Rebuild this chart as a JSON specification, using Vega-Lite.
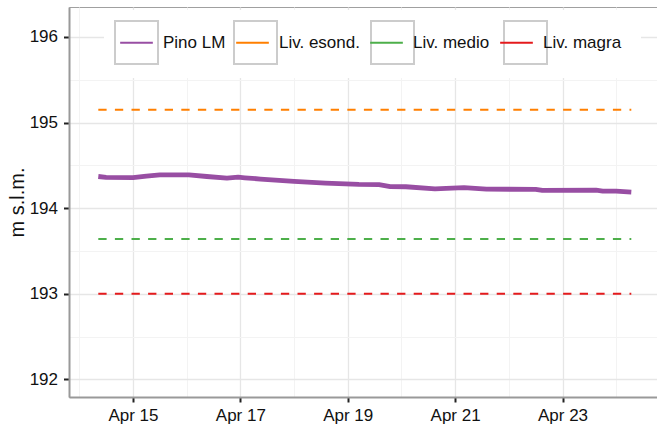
{
  "$schema": "https://vega.github.io/schema/vega-lite/v6.json",
  "autosize": "none",
  "padding": {"left": 69, "top": 7, "right": 0, "bottom": 29},
  "width": 590,
  "height": 390,
  "background": "white",
  "config": {
    "font": "Liberation Sans",
    "view": {"stroke": "#a0a0a0", "strokeWidth": 1},
    "axis": {"labelFontSize": 17, "titleFontSize": 20, "titleFontWeight": "normal"}
  },
  "datasets": {
    "level": [
      {"time": "2019-04-14T08:30:00", "value": 194.37, "series": "Pino LM"},
      {"time": "2019-04-14T12:00:00", "value": 194.36, "series": "Pino LM"},
      {"time": "2019-04-15T00:00:00", "value": 194.357, "series": "Pino LM"},
      {"time": "2019-04-15T06:00:00", "value": 194.375, "series": "Pino LM"},
      {"time": "2019-04-15T12:00:00", "value": 194.388, "series": "Pino LM"},
      {"time": "2019-04-16T01:00:00", "value": 194.388, "series": "Pino LM"},
      {"time": "2019-04-16T09:00:00", "value": 194.37, "series": "Pino LM"},
      {"time": "2019-04-16T18:00:00", "value": 194.352, "series": "Pino LM"},
      {"time": "2019-04-16T23:00:00", "value": 194.362, "series": "Pino LM"},
      {"time": "2019-04-17T02:00:00", "value": 194.355, "series": "Pino LM"},
      {"time": "2019-04-17T09:00:00", "value": 194.34, "series": "Pino LM"},
      {"time": "2019-04-18T00:00:00", "value": 194.312, "series": "Pino LM"},
      {"time": "2019-04-18T14:00:00", "value": 194.292, "series": "Pino LM"},
      {"time": "2019-04-19T05:00:00", "value": 194.277, "series": "Pino LM"},
      {"time": "2019-04-19T14:00:00", "value": 194.275, "series": "Pino LM"},
      {"time": "2019-04-19T19:00:00", "value": 194.252, "series": "Pino LM"},
      {"time": "2019-04-20T02:00:00", "value": 194.25, "series": "Pino LM"},
      {"time": "2019-04-20T15:00:00", "value": 194.225, "series": "Pino LM"},
      {"time": "2019-04-20T20:00:00", "value": 194.23, "series": "Pino LM"},
      {"time": "2019-04-21T04:00:00", "value": 194.24, "series": "Pino LM"},
      {"time": "2019-04-21T14:00:00", "value": 194.222, "series": "Pino LM"},
      {"time": "2019-04-22T12:00:00", "value": 194.22, "series": "Pino LM"},
      {"time": "2019-04-22T15:00:00", "value": 194.207, "series": "Pino LM"},
      {"time": "2019-04-23T15:00:00", "value": 194.21, "series": "Pino LM"},
      {"time": "2019-04-23T18:00:00", "value": 194.2, "series": "Pino LM"},
      {"time": "2019-04-24T00:00:00", "value": 194.2, "series": "Pino LM"},
      {"time": "2019-04-24T06:45:00", "value": 194.188, "series": "Pino LM"}
    ],
    "refs": [
      {"series": "Liv. esond.", "start": "2019-04-14T08:30:00", "end": "2019-04-24T06:45:00", "level": 195.15},
      {"series": "Liv. medio", "start": "2019-04-14T08:30:00", "end": "2019-04-24T06:45:00", "level": 193.64},
      {"series": "Liv. magra", "start": "2019-04-14T08:30:00", "end": "2019-04-24T06:45:00", "level": 193.0}
    ]
  },
  "resolve": {"axis": {"x": "independent", "y": "independent"}},
  "layer": [
    {
      "data": {"name": "refs"},
      "mark": {"type": "point", "opacity": 0},
      "encoding": {
        "x": {
          "field": "start", "type": "temporal",
          "scale": {"domain": [{"year": 2019, "month": "apr", "date": 13, "hours": 19, "minutes": 24}, {"year": 2019, "month": "apr", "date": 24, "hours": 19, "minutes": 8}], "nice": false},
          "axis": {
            "orient": "top", "title": null, "labels": false, "ticks": false, "domain": false,
            "grid": true, "gridColor": "#f3f3f3", "gridWidth": 1,
            "values": [
              {"year": 2019, "month": "apr", "date": 14},
              {"year": 2019, "month": "apr", "date": 16},
              {"year": 2019, "month": "apr", "date": 18},
              {"year": 2019, "month": "apr", "date": 20},
              {"year": 2019, "month": "apr", "date": 22},
              {"year": 2019, "month": "apr", "date": 24}
            ]
          }
        },
        "y": {
          "field": "level", "type": "quantitative",
          "scale": {"domain": [191.794, 196.35], "nice": false, "zero": false},
          "axis": {
            "orient": "right", "title": null, "labels": false, "ticks": false, "domain": false,
            "grid": true, "gridColor": "#f3f3f3", "gridWidth": 1,
            "values": [192.5, 193.5, 194.5, 195.5]
          }
        },
        "shape": {
          "field": "series", "type": "nominal",
          "scale": {"domain": ["Pino LM ", "Liv. esond. ", "Liv. medio ", "Liv. magra "], "range": ["square", "square", "square", "square"]},
          "legend": {
            "orient": "none", "legendX": 35, "legendY": 3, "direction": "horizontal", "title": null,
            "symbolType": "square", "symbolSize": 1849, "symbolStrokeWidth": 2,
            "symbolStrokeColor": "#cccccc", "symbolFillColor": "white", "symbolOpacity": 1,
            "labelFontSize": 17, "labelOffset": 4, "columnPadding": 4, "padding": 10,
            "labelOpacity": 0, "labelLimit": 300, "labelExpr": "trim(datum.label)",
            "fillColor": "white", "zindex": 1,
            "encode": {"symbols": {"update": {"stroke": {"value": "#cccccc"}, "fill": {"value": "white"}, "opacity": {"value": 1}, "strokeWidth": {"value": 2}, "fillOpacity": {"value": 1}}}}
          }
        }
      }
    },
    {
      "data": {"name": "level"},
      "mark": {"type": "line", "strokeWidth": 4.8, "strokeCap": "butt", "strokeJoin": "round"},
      "encoding": {
        "x": {
          "field": "time", "type": "temporal",
          "scale": {"domain": [{"year": 2019, "month": "apr", "date": 13, "hours": 19, "minutes": 24}, {"year": 2019, "month": "apr", "date": 24, "hours": 19, "minutes": 8}], "nice": false},
          "axis": {
            "orient": "bottom", "title": null, "format": "%b %d",
            "values": [
              {"year": 2019, "month": "apr", "date": 15},
              {"year": 2019, "month": "apr", "date": 17},
              {"year": 2019, "month": "apr", "date": 19},
              {"year": 2019, "month": "apr", "date": 21},
              {"year": 2019, "month": "apr", "date": 23}
            ],
            "labelFontSize": 17, "labelColor": "#111111", "labelPadding": 5, "labelFlush": false, "labelOverlap": false,
            "tickSize": 5, "tickWidth": 2, "tickColor": "#222222",
            "domainColor": "#999999", "domainWidth": 2,
            "grid": true, "gridColor": "#e6e6e6", "gridWidth": 1.3
          }
        },
        "y": {
          "field": "value", "type": "quantitative",
          "scale": {"domain": [191.794, 196.35], "nice": false, "zero": false},
          "axis": {
            "orient": "left", "title": "m s.l.m.", "values": [192, 193, 194, 195, 196], "format": "d",
            "labelFontSize": 17, "labelColor": "#111111", "labelPadding": 6,
            "tickSize": 5.5, "tickWidth": 2, "tickColor": "#222222",
            "domainColor": "#999999", "domainWidth": 2,
            "grid": true, "gridColor": "#e6e6e6", "gridWidth": 1.3,
            "titleFontSize": 20, "titleFontWeight": "normal", "titleColor": "#111111", "titlePadding": 2
          }
        },
        "color": {
          "field": "series", "type": "nominal",
          "scale": {"domain": ["Pino LM", "Liv. esond.", "Liv. medio", "Liv. magra"], "range": ["#984EA3", "#FF7F00", "#4DAF4A", "#E41A1C"]},
          "legend": {
            "orient": "none", "legendX": 35, "legendY": 3, "direction": "horizontal", "title": null,
            "symbolType": "M-0.76,0H0.76", "symbolSize": 1849, "symbolStrokeWidth": 2,
            "labelFontSize": 17, "labelColor": "#111111", "labelOffset": 4, "columnPadding": 4, "padding": 10,
            "labelLimit": 300, "zindex": 2,
            "encode": {"symbols": {"update": {"strokeDash": {"value": []}, "opacity": {"value": 1}, "strokeWidth": {"value": 2}}}}
          }
        }
      }
    },
    {
      "data": {"name": "refs"},
      "mark": {"type": "rule", "strokeWidth": 2, "strokeDash": [8.3, 8.3]},
      "encoding": {
        "x": {
          "field": "start", "type": "temporal",
          "scale": {"domain": [{"year": 2019, "month": "apr", "date": 13, "hours": 19, "minutes": 24}, {"year": 2019, "month": "apr", "date": 24, "hours": 19, "minutes": 8}], "nice": false},
          "axis": null
        },
        "x2": {"field": "end"},
        "y": {
          "field": "level", "type": "quantitative",
          "scale": {"domain": [191.794, 196.35], "nice": false, "zero": false},
          "axis": null
        },
        "color": {
          "field": "series", "type": "nominal",
          "scale": {"domain": ["Pino LM", "Liv. esond.", "Liv. medio", "Liv. magra"], "range": ["#984EA3", "#FF7F00", "#4DAF4A", "#E41A1C"]},
          "legend": {
            "orient": "none", "legendX": 35, "legendY": 3, "direction": "horizontal", "title": null,
            "symbolType": "M-0.76,0H0.76", "symbolSize": 1849, "symbolStrokeWidth": 2,
            "labelFontSize": 17, "labelColor": "#111111", "labelOffset": 4, "columnPadding": 4, "padding": 10,
            "labelLimit": 300, "zindex": 2,
            "encode": {"symbols": {"update": {"strokeDash": {"value": []}, "opacity": {"value": 1}, "strokeWidth": {"value": 2}}}}
          }
        }
      }
    }
  ]
}
